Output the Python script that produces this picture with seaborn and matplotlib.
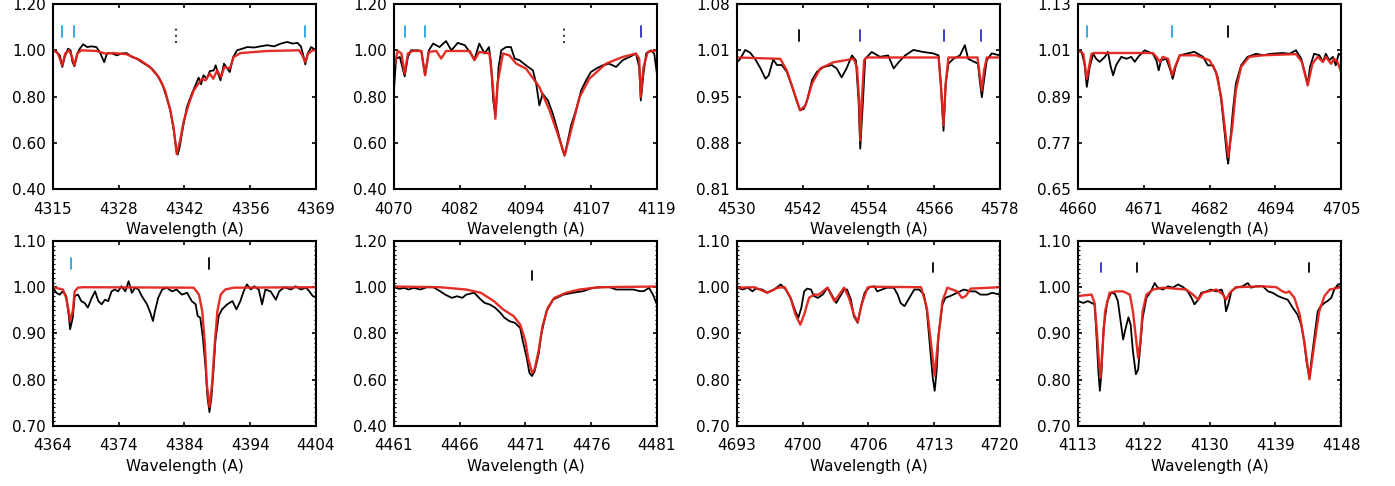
import numpy as np
import matplotlib
matplotlib.use("Agg")
import matplotlib.pyplot as plt
from matplotlib.ticker import AutoMinorLocator
import seaborn as sns

# ---- panel 1 : H gamma ----
w_obs_1 = [4315.0, 4315.7, 4316.4, 4316.9, 4317.4, 4318.1, 4318.6, 4319.0, 4319.4, 4320.0, 4320.5, 4321.2, 4322.0,
           4322.9, 4323.9, 4324.6, 4325.5, 4326.1, 4327.0, 4328.1, 4329.1, 4330.1, 4331.2, 4332.2, 4333.2, 4334.3,
           4335.3, 4336.3, 4337.4, 4338.2, 4339.1, 4339.8, 4340.3, 4340.6, 4341.0, 4341.7, 4342.5, 4343.5, 4344.4,
           4344.9, 4345.4, 4345.9, 4346.6, 4347.2, 4348.0, 4348.4, 4348.8, 4349.4, 4350.1, 4350.8, 4351.3, 4352.0,
           4352.8, 4353.9, 4354.9, 4356.3, 4357.6, 4359.0, 4360.4, 4361.8, 4363.1, 4364.2, 4365.2, 4365.9, 4366.4,
           4366.8, 4367.3, 4368.0, 4369.0]
f_obs_1 = [1.000, 0.993, 0.978, 0.928, 0.971, 1.007, 1.000, 0.949, 0.931, 0.986, 1.007, 1.026, 1.014,
           1.017, 1.014, 0.993, 0.949, 0.986, 0.988, 0.978, 0.986, 0.988, 0.971, 0.964, 0.949, 0.935,
           0.921, 0.896, 0.856, 0.805, 0.740, 0.653, 0.574, 0.549, 0.581, 0.668, 0.755, 0.812, 0.856,
           0.882, 0.853, 0.892, 0.877, 0.910, 0.913, 0.935, 0.906, 0.870, 0.942, 0.921, 0.906, 0.971,
           1.000, 1.007, 1.014, 1.012, 1.017, 1.022, 1.017, 1.029, 1.036, 1.029, 1.032, 1.017, 0.978,
           0.939, 0.986, 1.014, 1.000]
w_mod_1 = [4315.0, 4316.0, 4316.9, 4317.5, 4318.3, 4318.8, 4319.4, 4320.0, 4320.8, 4323.9, 4325.7, 4327.4, 4330.1,
           4332.9, 4334.9, 4336.7, 4338.0, 4339.1, 4339.8, 4340.4, 4341.1, 4341.8, 4342.9, 4343.9, 4344.9, 4345.6,
           4346.3, 4347.2, 4347.9, 4348.7, 4349.5, 4350.2, 4351.3, 4352.1, 4353.5, 4359.0, 4365.5, 4366.2, 4366.8,
           4367.4, 4368.3, 4369.0]
f_mod_1 = [1.003, 0.986, 0.935, 0.986, 1.000, 0.978, 0.935, 0.986, 1.000, 0.997, 0.986, 0.988, 0.983,
           0.957, 0.928, 0.884, 0.827, 0.740, 0.661, 0.552, 0.610, 0.690, 0.769, 0.827, 0.856, 0.877,
           0.870, 0.899, 0.877, 0.913, 0.884, 0.928, 0.921, 0.971, 0.988, 0.997, 1.000, 0.978, 0.949,
           0.986, 1.000, 1.000]

# ---- panel 2 : H delta ----
w_obs_2 = [4070.0, 4070.4, 4071.1, 4072.0, 4072.6, 4073.2, 4074.5, 4075.1, 4075.8, 4076.5, 4077.3, 4078.5, 4079.7,
           4080.7, 4081.9, 4083.2, 4084.1, 4085.0, 4085.9, 4086.9, 4087.7, 4088.1, 4088.5, 4088.9, 4089.2, 4089.5,
           4090.0, 4090.9, 4091.8, 4092.5, 4093.4, 4094.6, 4095.9, 4096.5, 4097.1, 4097.7, 4098.7, 4099.6, 4100.5,
           4101.3, 4101.8, 4102.4, 4103.0, 4103.9, 4104.9, 4105.8, 4106.7, 4107.7, 4108.9, 4110.1, 4111.4, 4112.6,
           4113.9, 4115.1, 4115.7, 4116.0, 4116.5, 4117.0, 4117.9, 4118.5, 4119.0]
f_obs_2 = [0.827, 0.964, 0.971, 0.887, 0.971, 1.000, 1.000, 0.997, 0.892, 1.000, 1.029, 1.014, 1.040,
           1.000, 1.032, 1.022, 0.993, 0.960, 1.029, 0.986, 1.014, 0.942, 0.783, 0.718, 0.812, 0.928,
           1.000, 1.014, 1.014, 0.964, 0.957, 0.935, 0.913, 0.856, 0.762, 0.812, 0.783, 0.726, 0.653,
           0.581, 0.545, 0.610, 0.675, 0.740, 0.827, 0.870, 0.906, 0.921, 0.935, 0.942, 0.928, 0.957,
           0.971, 0.986, 0.928, 0.783, 0.899, 0.986, 1.000, 0.986, 0.899]
w_mod_2 = [4070.0, 4070.7, 4071.4, 4072.0, 4072.6, 4073.5, 4075.1, 4075.8, 4076.5, 4077.9, 4078.8, 4079.7, 4084.1,
           4085.0, 4085.9, 4087.8, 4088.4, 4088.9, 4089.3, 4090.3, 4091.5, 4092.8, 4094.6, 4097.1, 4099.0, 4100.5,
           4101.8, 4103.0, 4104.6, 4106.4, 4109.5, 4112.6, 4115.1, 4115.7, 4116.0, 4116.5, 4117.3, 4119.0]
f_mod_2 = [0.928, 0.997, 0.986, 0.899, 0.986, 0.997, 0.997, 0.892, 0.993, 0.997, 0.964, 0.997, 0.997,
           0.957, 0.993, 0.986, 0.856, 0.704, 0.856, 0.986, 0.978, 0.942, 0.921, 0.841, 0.740, 0.639,
           0.545, 0.653, 0.798, 0.877, 0.942, 0.971, 0.986, 0.964, 0.798, 0.928, 0.993, 1.000]

# ---- panel 3 : He II 4542 ----
w_obs_3 = [4530.0, 4530.6, 4531.5, 4532.4, 4533.3, 4534.3, 4535.2, 4535.8, 4536.6, 4537.3, 4538.2, 4539.1, 4540.0,
           4540.9, 4541.5, 4542.2, 4542.8, 4543.7, 4544.6, 4545.8, 4547.3, 4548.2, 4549.1, 4550.0, 4551.0, 4551.7,
           4552.2, 4552.5, 4553.0, 4553.4, 4554.6, 4556.1, 4557.6, 4558.6, 4559.5, 4560.7, 4562.2, 4564.0, 4565.8,
           4566.8, 4567.2, 4567.7, 4568.1, 4568.6, 4569.5, 4570.7, 4571.6, 4572.2, 4574.0, 4574.3, 4574.7, 4575.1,
           4575.6, 4576.5, 4578.0]
f_obs_3 = [0.995, 1.000, 1.013, 1.009, 1.000, 0.986, 0.971, 0.976, 0.999, 0.991, 0.991, 0.981, 0.961,
           0.939, 0.925, 0.927, 0.939, 0.969, 0.981, 0.988, 0.991, 0.986, 0.973, 0.986, 1.005, 0.998,
           0.939, 0.869, 0.939, 1.000, 1.010, 1.003, 1.005, 0.986, 0.995, 1.005, 1.013, 1.010, 1.008,
           1.005, 0.964, 0.895, 0.964, 0.993, 1.000, 1.005, 1.020, 1.000, 0.993, 0.969, 0.944, 0.969,
           0.998, 1.008, 1.005]
w_mod_3 = [4530.0, 4537.9, 4539.1, 4540.3, 4541.5, 4542.5, 4543.7, 4545.2, 4547.6, 4551.3, 4551.9, 4552.3, 4552.5,
           4552.8, 4553.2, 4553.7, 4566.8, 4567.2, 4567.7, 4568.1, 4568.6, 4573.9, 4574.2, 4574.7, 4575.1, 4575.6,
           4578.0]
f_mod_3 = [1.002, 1.000, 0.983, 0.954, 0.925, 0.932, 0.964, 0.986, 0.995, 1.000, 0.988, 0.939, 0.881,
           0.939, 0.998, 1.002, 1.002, 0.964, 0.903, 0.964, 1.002, 1.002, 0.983, 0.954, 0.983, 1.002,
           1.002]

# ---- panel 4 : He II 4686 ----
w_obs_4 = [4660.0, 4660.6, 4661.1, 4661.5, 4662.0, 4662.6, 4663.1, 4663.7, 4664.6, 4665.1, 4665.6, 4666.0, 4666.5,
           4667.4, 4668.3, 4669.1, 4669.7, 4670.3, 4671.4, 4672.8, 4673.4, 4673.8, 4674.2, 4675.1, 4675.8, 4676.2,
           4676.7, 4677.4, 4678.5, 4679.9, 4681.4, 4682.2, 4683.1, 4683.9, 4684.5, 4685.1, 4685.5, 4685.7, 4686.0,
           4686.5, 4687.0, 4687.9, 4689.0, 4690.5, 4691.6, 4693.0, 4695.0, 4696.2, 4697.3, 4698.2, 4698.7, 4699.3,
           4699.7, 4700.4, 4701.3, 4701.9, 4702.4, 4703.0, 4703.6, 4704.1, 4704.6, 4705.0]
f_obs_4 = [1.010, 1.006, 0.975, 0.915, 0.967, 1.001, 0.988, 0.980, 0.993, 1.006, 0.967, 0.945, 0.971,
           0.993, 0.988, 0.993, 0.980, 0.993, 1.010, 1.001, 0.984, 0.958, 0.984, 0.988, 0.958, 0.936,
           0.967, 0.997, 1.001, 1.006, 0.993, 0.971, 0.971, 0.941, 0.880, 0.794, 0.733, 0.716, 0.768,
           0.854, 0.923, 0.971, 0.993, 1.001, 0.997, 1.001, 1.003, 1.001, 1.010, 0.988, 0.958, 0.923,
           0.967, 1.001, 0.997, 0.980, 1.001, 0.984, 0.993, 0.971, 1.001, 0.997]
w_mod_4 = [4660.0, 4660.9, 4661.5, 4662.3, 4662.8, 4672.8, 4673.4, 4674.0, 4674.5, 4675.4, 4676.1, 4676.7, 4677.4,
           4680.2, 4682.5, 4683.6, 4684.5, 4685.1, 4685.7, 4686.4, 4687.0, 4687.9, 4689.3, 4691.6, 4697.3, 4698.3,
           4699.3, 4700.1, 4701.0, 4701.9, 4702.4, 4703.3, 4703.8, 4704.4, 4705.0]
f_mod_4 = [1.010, 1.001, 0.936, 1.001, 1.003, 1.003, 0.993, 0.980, 0.993, 0.988, 0.945, 0.971, 0.997,
           0.997, 0.984, 0.954, 0.889, 0.811, 0.733, 0.811, 0.906, 0.967, 0.993, 0.997, 1.000, 0.980,
           0.919, 0.975, 0.993, 0.980, 0.993, 0.975, 0.988, 0.980, 0.954]

# ---- panel 5 : He I 4388 ----
w_obs_5 = [4364.0, 4364.5, 4365.0, 4365.5, 4366.0, 4366.4, 4366.6, 4367.0, 4367.3, 4367.8, 4368.3, 4368.8, 4369.3,
           4369.9, 4370.4, 4370.9, 4371.4, 4371.9, 4372.4, 4372.9, 4373.4, 4373.9, 4374.4, 4375.0, 4375.5, 4376.0,
           4376.5, 4377.0, 4377.5, 4378.3, 4378.8, 4379.2, 4379.5, 4380.0, 4380.6, 4381.3, 4382.1, 4382.8, 4383.6,
           4384.4, 4385.1, 4385.7, 4386.0, 4386.4, 4386.8, 4387.2, 4387.5, 4387.8, 4388.1, 4388.4, 4388.7, 4389.2,
           4389.7, 4390.5, 4391.3, 4391.9, 4392.5, 4393.0, 4393.5, 4394.1, 4394.6, 4395.3, 4395.8, 4396.3, 4397.1,
           4397.9, 4398.4, 4399.2, 4400.2, 4400.9, 4401.7, 4402.5, 4403.0, 4403.5, 4404.0]
f_obs_5 = [0.999, 0.988, 0.984, 0.991, 0.981, 0.938, 0.909, 0.934, 0.981, 0.984, 0.970, 0.966, 0.956,
           0.977, 0.991, 0.970, 0.963, 0.973, 0.970, 0.991, 0.995, 0.991, 1.002, 0.991, 1.013, 0.988,
           0.999, 0.995, 0.981, 0.963, 0.945, 0.927, 0.948, 0.977, 0.995, 0.999, 0.991, 0.995, 0.984,
           0.988, 0.970, 0.963, 0.938, 0.934, 0.891, 0.827, 0.762, 0.730, 0.762, 0.819, 0.884, 0.938,
           0.952, 0.963, 0.970, 0.952, 0.970, 0.991, 1.006, 0.995, 1.002, 0.995, 0.963, 0.995, 0.991,
           0.973, 0.991, 1.000, 0.995, 1.002, 0.995, 0.999, 0.991, 0.981, 0.978]
w_mod_5 = [4364.0, 4365.5, 4366.0, 4366.4, 4366.6, 4367.0, 4367.3, 4367.8, 4368.6, 4385.4, 4386.2, 4386.7, 4387.1,
           4387.4, 4387.8, 4388.2, 4388.6, 4389.0, 4389.5, 4390.2, 4391.5, 4404.0]
f_mod_5 = [1.000, 0.995, 0.977, 0.948, 0.927, 0.948, 0.991, 0.999, 1.000, 0.999, 0.984, 0.948, 0.877,
           0.791, 0.741, 0.791, 0.877, 0.948, 0.984, 0.995, 0.999, 1.000]

# ---- panel 6 : He I 4471 ----
w_obs_6 = [4461.0, 4461.4, 4461.8, 4462.1, 4462.5, 4463.0, 4463.5, 4464.0, 4464.5, 4464.9, 4465.4, 4465.8, 4466.2,
           4466.5, 4467.1, 4467.6, 4467.9, 4468.3, 4468.7, 4469.1, 4469.4, 4469.8, 4470.2, 4470.6, 4470.8, 4471.1,
           4471.3, 4471.5, 4471.7, 4472.0, 4472.2, 4472.6, 4473.1, 4473.9, 4474.6, 4475.4, 4476.1, 4476.9, 4477.4,
           4477.9, 4478.7, 4479.2, 4479.7, 4480.0, 4480.4, 4480.7, 4481.0]
f_obs_6 = [1.000, 0.993, 0.997, 0.990, 0.997, 0.990, 1.000, 1.000, 0.983, 0.968, 0.954, 0.961, 0.954,
           0.968, 0.976, 0.947, 0.932, 0.925, 0.911, 0.889, 0.868, 0.853, 0.846, 0.824, 0.767, 0.695,
           0.630, 0.616, 0.637, 0.709, 0.796, 0.896, 0.947, 0.968, 0.976, 0.983, 0.997, 1.000, 1.000,
           0.990, 0.990, 0.990, 0.983, 0.983, 0.997, 0.968, 0.925]
w_mod_6 = [4461.0, 4464.5, 4466.5, 4467.6, 4468.6, 4469.3, 4470.1, 4470.6, 4471.0, 4471.2, 4471.5, 4471.7, 4472.0,
           4472.3, 4472.7, 4473.2, 4474.1, 4475.1, 4476.6, 4481.0]
f_mod_6 = [1.003, 1.000, 0.990, 0.976, 0.940, 0.904, 0.875, 0.839, 0.767, 0.695, 0.630, 0.645, 0.724,
           0.832, 0.911, 0.954, 0.976, 0.990, 1.000, 1.003]

# ---- panel 7 : He I 4713 ----
w_obs_7 = [4693.0, 4693.6, 4694.1, 4694.6, 4694.9, 4695.6, 4696.1, 4696.8, 4697.5, 4698.0, 4698.5, 4699.0, 4699.3,
           4699.6, 4699.9, 4700.2, 4700.6, 4700.9, 4701.3, 4701.8, 4702.3, 4702.8, 4703.2, 4703.5, 4704.0, 4704.3,
           4704.7, 4705.0, 4705.4, 4705.7, 4706.1, 4706.6, 4707.1, 4707.4, 4707.9, 4708.4, 4709.1, 4709.5, 4709.8,
           4710.2, 4710.7, 4711.2, 4711.7, 4712.2, 4712.5, 4712.8, 4713.1, 4713.3, 4713.5, 4713.7, 4714.1, 4714.4,
           4714.9, 4715.6, 4716.3, 4717.0, 4717.5, 4718.0, 4718.7, 4719.2, 4720.0]
f_obs_7 = [0.999, 0.995, 0.999, 0.991, 0.997, 0.995, 0.988, 0.995, 1.006, 0.995, 0.977, 0.948, 0.934,
           0.955, 0.991, 0.997, 0.995, 0.981, 0.977, 0.984, 0.999, 0.981, 0.966, 0.977, 0.995, 0.995,
           0.973, 0.937, 0.923, 0.955, 0.988, 1.000, 1.002, 0.991, 0.995, 0.999, 0.999, 0.984, 0.966,
           0.959, 0.977, 0.995, 0.995, 0.984, 0.948, 0.876, 0.804, 0.776, 0.819, 0.898, 0.963, 0.977,
           0.981, 0.988, 0.995, 0.991, 0.991, 0.984, 0.984, 0.988, 0.984]
w_mod_7 = [4693.0, 4694.8, 4696.1, 4697.2, 4697.9, 4698.5, 4699.0, 4699.5, 4699.9, 4700.4, 4700.9, 4701.4, 4702.3,
           4703.0, 4703.5, 4704.0, 4704.5, 4705.0, 4705.4, 4705.8, 4706.4, 4706.7, 4711.9, 4712.5, 4712.9, 4713.3,
           4713.6, 4714.1, 4714.6, 4715.6, 4716.1, 4716.5, 4717.0, 4720.0]
f_mod_7 = [0.999, 1.000, 0.988, 0.999, 1.000, 0.977, 0.941, 0.919, 0.941, 0.977, 0.984, 0.984, 0.999,
           0.970, 0.984, 0.999, 0.977, 0.941, 0.925, 0.963, 0.999, 1.001, 1.000, 0.955, 0.883, 0.808,
           0.876, 0.970, 0.999, 0.991, 0.977, 0.981, 0.997, 1.000]

# ---- panel 8 : Si IV / He I 4121 / He I 4144 ----
w_obs_8 = [4113.0, 4113.7, 4114.3, 4114.8, 4115.2, 4115.4, 4115.7, 4115.9, 4116.1, 4116.4, 4116.9, 4117.4, 4117.9,
           4118.3, 4118.6, 4119.0, 4119.3, 4119.7, 4120.0, 4120.3, 4120.7, 4121.0, 4121.3, 4121.6, 4122.1, 4122.7,
           4123.2, 4123.6, 4124.3, 4125.0, 4125.6, 4126.3, 4127.0, 4127.6, 4128.1, 4128.5, 4129.0, 4129.4, 4130.1,
           4130.7, 4131.4, 4132.1, 4132.5, 4132.7, 4133.0, 4133.4, 4134.0, 4134.9, 4135.6, 4136.0, 4136.7, 4137.6,
           4138.3, 4138.9, 4139.6, 4140.2, 4140.9, 4141.6, 4142.2, 4142.7, 4143.1, 4143.4, 4143.8, 4144.1, 4144.5,
           4144.9, 4145.3, 4145.8, 4146.2, 4146.7, 4147.1, 4147.6, 4148.0]
f_obs_8 = [0.970, 0.966, 0.970, 0.966, 0.963, 0.912, 0.819, 0.776, 0.812, 0.912, 0.970, 0.988, 0.986,
           0.970, 0.934, 0.887, 0.909, 0.935, 0.919, 0.862, 0.812, 0.822, 0.876, 0.934, 0.977, 0.991,
           1.009, 0.999, 0.995, 1.002, 0.999, 1.006, 1.000, 0.991, 0.977, 0.963, 0.973, 0.988, 0.991,
           0.995, 0.991, 0.995, 0.977, 0.948, 0.963, 0.991, 0.999, 1.002, 1.009, 0.999, 1.002, 1.002,
           0.991, 0.988, 0.981, 0.977, 0.973, 0.955, 0.941, 0.919, 0.883, 0.840, 0.804, 0.847, 0.898,
           0.948, 0.959, 0.966, 0.970, 0.977, 0.995, 1.006, 1.006]
w_mod_8 = [4113.0, 4114.8, 4115.2, 4115.5, 4115.8, 4116.0, 4116.2, 4116.6, 4117.2, 4118.1, 4119.0, 4119.9, 4120.3,
           4120.7, 4121.0, 4121.3, 4121.6, 4122.1, 4123.0, 4124.3, 4127.4, 4128.3, 4129.0, 4129.6, 4131.4, 4132.3,
           4132.7, 4133.2, 4134.0, 4137.6, 4139.4, 4140.2, 4140.7, 4141.1, 4141.8, 4142.5, 4143.1, 4143.8, 4144.5,
           4145.1, 4145.8, 4146.5, 4148.0]
f_mod_8 = [0.981, 0.984, 0.966, 0.905, 0.833, 0.804, 0.855, 0.948, 0.988, 0.991, 0.991, 0.984, 0.948,
           0.891, 0.847, 0.883, 0.948, 0.984, 0.995, 0.999, 0.995, 0.984, 0.973, 0.988, 0.995, 0.984,
           0.973, 0.988, 1.000, 1.002, 1.000, 0.991, 0.988, 0.991, 0.977, 0.941, 0.883, 0.801, 0.883,
           0.948, 0.981, 0.995, 1.000]

# axis ranges and tick labels
x_ranges = [(4315, 4369), (4070, 4119), (4530, 4578), (4660, 4705),
            (4364, 4404), (4461, 4481), (4693, 4720), (4113, 4148)]
y_ranges = [(0.40, 1.20), (0.40, 1.20), (0.81, 1.08), (0.65, 1.13),
            (0.70, 1.10), (0.40, 1.20), (0.70, 1.10), (0.70, 1.10)]
x_labels = [["4315", "4328", "4342", "4356", "4369"],
            ["4070", "4082", "4094", "4107", "4119"],
            ["4530", "4542", "4554", "4566", "4578"],
            ["4660", "4671", "4682", "4694", "4705"],
            ["4364", "4374", "4384", "4394", "4404"],
            ["4461", "4466", "4471", "4476", "4481"],
            ["4693", "4700", "4706", "4713", "4720"],
            ["4113", "4122", "4130", "4139", "4148"]]
y_labels = [["0.40", "0.60", "0.80", "1.00", "1.20"],
            ["0.40", "0.60", "0.80", "1.00", "1.20"],
            ["0.81", "0.88", "0.95", "1.01", "1.08"],
            ["0.65", "0.77", "0.89", "1.01", "1.13"],
            ["0.70", "0.80", "0.90", "1.00", "1.10"],
            ["0.40", "0.60", "0.80", "1.00", "1.20"],
            ["0.70", "0.80", "0.90", "1.00", "1.10"],
            ["0.70", "0.80", "0.90", "1.00", "1.10"]]

# line identification marks: wavelength and kind
mark_waves = [[4316.9, 4319.4, 4366.8, 4340.3],
              [4072.0, 4075.8, 4116.0, 4101.6],
              [4541.4, 4552.5, 4567.7, 4574.6],
              [4661.6, 4676.1, 4685.6],
              [4366.7, 4387.8],
              [4471.5],
              [4713.1],
              [4116.0, 4120.8, 4143.7]]
mark_kinds = [["lb", "lb", "lb", "dot"],
              ["lb", "lb", "db", "dot"],
              ["k", "db", "db", "db"],
              ["lb", "lb", "k"],
              ["lb", "k"],
              ["k"],
              ["k"],
              ["db", "k", "k"]]
mark_rows = [(0.82, 0.88), (0.82, 0.88), (0.80, 0.86), (0.82, 0.88),
             (0.85, 0.91), (0.79, 0.84), (0.83, 0.88), (0.83, 0.88)]

obs_w = [w_obs_1, w_obs_2, w_obs_3, w_obs_4, w_obs_5, w_obs_6, w_obs_7, w_obs_8]
obs_f = [f_obs_1, f_obs_2, f_obs_3, f_obs_4, f_obs_5, f_obs_6, f_obs_7, f_obs_8]
mod_w = [w_mod_1, w_mod_2, w_mod_3, w_mod_4, w_mod_5, w_mod_6, w_mod_7, w_mod_8]
mod_f = [f_mod_1, f_mod_2, f_mod_3, f_mod_4, f_mod_5, f_mod_6, f_mod_7, f_mod_8]

mark_colors = {"lb": "#27a2dc", "db": "#2f2fc0", "k": "black", "dot": "#333333"}

sns.set_style("ticks")
plt.rcParams['font.family'] = ['DejaVu Sans']
plt.rcParams['font.size'] = 11
plt.rcParams['axes.linewidth'] = 1.5
plt.rcParams['axes.edgecolor'] = 'black'
plt.rcParams['xtick.color'] = 'black'
plt.rcParams['ytick.color'] = 'black'
plt.rcParams['text.color'] = 'black'
plt.rcParams['axes.labelcolor'] = 'black'
plt.rcParams['xtick.direction'] = 'in'
plt.rcParams['ytick.direction'] = 'in'
plt.rcParams['xtick.top'] = True
plt.rcParams['ytick.right'] = True

fig = plt.figure(figsize=(13.95, 4.86), dpi=100)
lefts = [0.0380, 0.2824, 0.5283, 0.7728]
bottoms = [0.611, 0.1235]
w_ax, h_ax = 0.1885, 0.3807

for i in range(8):
    row, col = divmod(i, 4)
    ax = fig.add_axes([lefts[col], bottoms[row], w_ax, h_ax])
    sns.lineplot(x=obs_w[i], y=obs_f[i], ax=ax, color="black", linewidth=1.3,
                 estimator=None, sort=False)
    sns.lineplot(x=mod_w[i], y=mod_f[i], ax=ax, color="#e3231c", linewidth=1.7,
                 estimator=None, sort=False, alpha=0.95)

    y0, y1 = mark_rows[i]
    for wl, kind in zip(mark_waves[i], mark_kinds[i]):
        if kind == "dot":
            ax.plot([wl, wl], [y0 - 0.03, y1 + 0.005], color=mark_colors[kind],
                    linewidth=1.4, linestyle=(0, (1, 2.2)), transform=ax.get_xaxis_transform())
        else:
            ax.plot([wl, wl], [y0, y1], color=mark_colors[kind], linewidth=1.3,
                    transform=ax.get_xaxis_transform())

    xmin, xmax = x_ranges[i]
    ymin, ymax = y_ranges[i]
    ax.set_xlim(xmin, xmax)
    ax.set_ylim(ymin, ymax)
    ax.set_xticks(np.linspace(xmin, xmax, 5))
    ax.set_xticklabels(x_labels[i])
    ax.set_yticks(np.linspace(ymin, ymax, 5))
    ax.set_yticklabels(y_labels[i])
    ax.tick_params(axis='both', which='major', length=3, width=1.2, labelsize=11)
    ax.tick_params(axis='x', pad=9)
    ax.tick_params(axis='y', pad=5)
    if row == 1:
        ax.yaxis.set_minor_locator(AutoMinorLocator(10))
        ax.tick_params(axis='y', which='minor', length=1.5, width=0.8)
    ax.set_xlabel("Wavelength (A)", fontsize=11, labelpad=4)
    ax.set_ylabel("")
    for s in ax.spines.values():
        s.set_visible(True)
        s.set_linewidth(1.5)

fig.savefig("out.png", dpi=100)
